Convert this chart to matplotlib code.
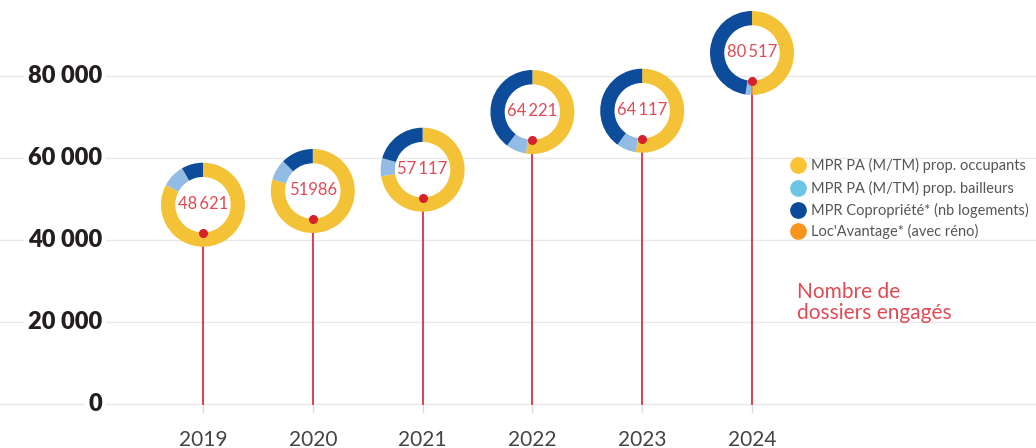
import matplotlib
matplotlib.use("Agg")
import matplotlib.pyplot as plt
from matplotlib.lines import Line2D

# ── Data ──────────────────────────────────────────────────────────────────────
years = ["2019", "2020", "2021", "2022", "2023", "2024"]
total_labels = ["48\u2009621", "51986", "57\u2009117", "64\u2009221", "64\u2009117", "80\u2009517"]
pa_occupants = [40250, 41300, 41410, 33720, 33660, 40150]
pa_bailleurs = [4320, 4190, 3970, 5000, 4810, 1790]
copropriete = [4050, 6500, 11740, 25500, 25650, 38240]
loc_avantage = [0, 0, 0, 0, 0, 340]
stem_tops = [41780, 45120, 50320, 64390, 64710, 78780]

y_ticks = [0, 20000, 40000, 60000, 80000]
y_tick_labels = ["0", "20 000", "40 000", "60 000", "80 000"]

legend_labels = ["MPR PA (M/TM) prop. occupants",
                 "MPR PA (M/TM) prop. bailleurs",
                 "MPR Copropriété* (nb logements)",
                 "Loc'Avantage* (avec réno)"]
legend_colors = ["#FBC335", "#6CC5E6", "#0B4A99", "#F7941D"]
ring_colors = ["#F4C237", "#F39323", "#93BCE4", "#0D4C9A"]

RED = "#D7202E"
TXT_RED = "#E04A55"

plt.rcParams["font.family"] = ["Lato", "DejaVu Sans"]

W, H = 1036, 448
fig = plt.figure(figsize=(W / 100, H / 100), dpi=100)
ax = fig.add_axes([0, 0, 1, 1])

# pixel-based scale: 0 at y=404px, 80 000 at y=76px
px_per_unit = 82 / 20000
ax.set_ylim(-(H - 404) / px_per_unit, 404 / px_per_unit)
step = 109.8
ax.set_xlim(-203 / step, (W - 203) / step)
ax.axis("off")

# ── Grid + y labels ───────────────────────────────────────────────────────────
for v, lab in zip(y_ticks, y_tick_labels):
    ax.axhline(v, color="#e8e8e8", lw=1, zorder=0)
    ax.text(102 / W, v, lab, transform=ax.get_yaxis_transform(), ha="right", va="center",
            fontsize=17, fontweight="heavy", color="#231f20",
            bbox=dict(boxstyle="square,pad=0.15", fc="white", ec="none"), zorder=1)

# ── Stems, dots, years ────────────────────────────────────────────────────────
xs = list(range(len(years)))
for x, top, yr in zip(xs, stem_tops, years):
    ax.plot([x, x], [0, -8 / px_per_unit], color="#dddddd", lw=1, zorder=1)
    ax.plot([x, x], [0, top], color=RED, lw=1.2, zorder=2)
    ax.text(x, -36 / px_per_unit, yr, ha="center", va="center", fontsize=15,
            fontweight="normal", color="#444444")

# ── Donuts ────────────────────────────────────────────────────────────────────
r_out = 42
inv = fig.transFigure.inverted()
for i, x in enumerate(xs):
    px, py = ax.transData.transform((x, stem_tops[i]))
    cy = py + 28
    (fx0, fy0) = inv.transform((px - r_out, cy - r_out))
    (fx1, fy1) = inv.transform((px + r_out, cy + r_out))
    dax = fig.add_axes([fx0, fy0, fx1 - fx0, fy1 - fy0], zorder=3)
    vals = [pa_occupants[i], loc_avantage[i], pa_bailleurs[i], copropriete[i]]
    dax.pie(vals, colors=ring_colors, startangle=90, counterclock=False,
            radius=1.0, wedgeprops=dict(width=0.34, linewidth=0))
    dax.set_xlim(-1, 1)
    dax.set_ylim(-1, 1)
    dax.set_aspect("equal")
    dax.axis("off")
    dax.text(0, 0.02, total_labels[i], ha="center", va="center", fontsize=12,
             fontweight="normal", color=TXT_RED)
    # red dot at stem top
    fx, fy = inv.transform((px, py))
    fig.add_artist(Line2D([fx], [fy], marker="o", ms=5.5, color=RED, zorder=10,
                          transform=fig.transFigure))

# ── Legend ────────────────────────────────────────────────────────────────────
leg_y = [165, 188, 210, 231]
for lab, col, y in zip(legend_labels, legend_colors, leg_y):
    fig.add_artist(Line2D([798 / W], [1 - y / H], marker="o", ms=11, color=col,
                          transform=fig.transFigure))
    fig.text(811 / W, 1 - y / H, lab, ha="left", va="center", fontsize=10.5,
             color="#555555")

fig.text(797 / W, 1 - 292 / H, "Nombre de", ha="left", va="center", fontsize=15,
         fontweight="normal", color=TXT_RED)
fig.text(797 / W, 1 - 313 / H, "dossiers engagés", ha="left", va="center", fontsize=15,
         fontweight="normal", color=TXT_RED)

plt.savefig("out.png", dpi=100)
plt.close()
